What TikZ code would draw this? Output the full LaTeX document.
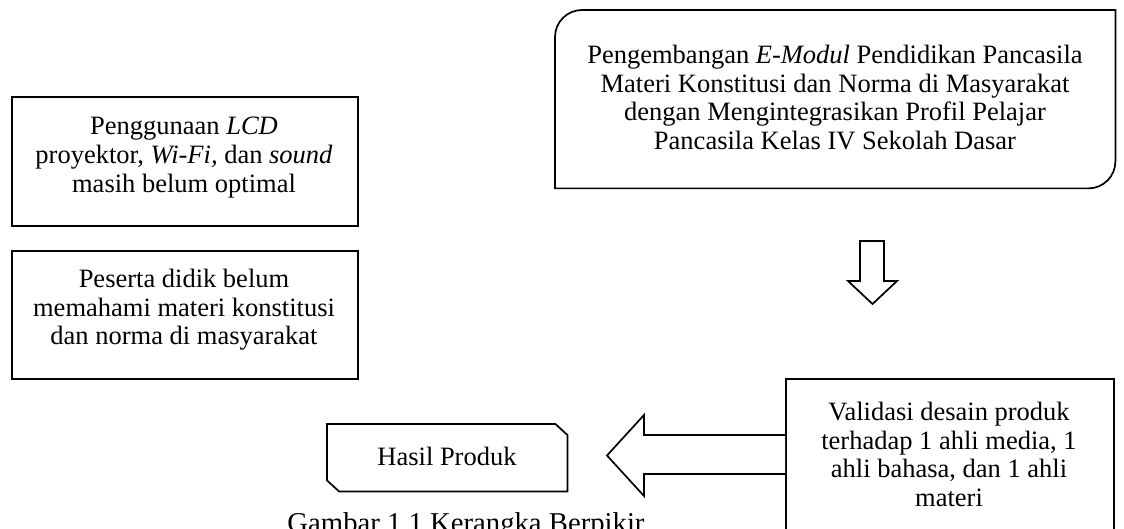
\documentclass[tikz,border=0pt]{standalone}
\usepackage{fontspec}
\setmainfont{Liberation Serif}
\usetikzlibrary{calc}
\begin{document}
\begin{tikzpicture}[x=1pt,y=-1pt,
  frame/.style={draw, line width=1.7pt, inner sep=0pt},
  shapebox/.style={inner sep=0pt},
  outline/.style={draw, line width=1.7pt, line join=miter},
  txt/.style={inner sep=0pt, align=center, font=\fontsize{26.5}{28.7}\selectfont},
  captxt/.style={inner sep=0pt, font=\fontsize{28.7}{32}\selectfont},
  blockarrow/.style={draw, line width=1.7pt, line join=miter, fill=white}]
\useasboundingbox (0,0) rectangle (1124,529);
\clip (0,0) rectangle (1124,529);
\fill[white] (0,0) rectangle (1124,529);

% left boxes
\node[frame, minimum width=346, minimum height=129, anchor=north west] (lcd) at (11,96) {};
\node[txt, anchor=north] (lcdtext) at (184,117) {Penggunaan \textit{LCD}\\proyektor, \textit{Wi-Fi,} dan \textit{sound}\\masih belum optimal};

\node[frame, minimum width=346, minimum height=128, anchor=north west] (didik) at (11,250) {};
\node[txt, anchor=north] (didiktext) at (184,269) {Peserta didik belum\\memahami materi konstitusi\\dan norma di masyarakat};

% top right box (rounded top-left and bottom-right corners)
\node[shapebox, minimum width=560, minimum height=178, anchor=north west] (modul) at (555,10) {};
\draw[outline] (modul.south west) -- ($(modul.north west)+(0,27)$)
  .. controls ($(modul.north west)+(0,12.1)$) and ($(modul.north west)+(12.1,0)$) .. ($(modul.north west)+(27,0)$)
  -- (modul.north east) -- ($(modul.south east)+(0,-27)$)
  .. controls ($(modul.south east)+(0,-12.1)$) and ($(modul.south east)+(-12.1,0)$) .. ($(modul.south east)+(-27,0)$)
  -- cycle;
\node[txt, anchor=north] (modultext) at (835,45) {Pengembangan \textit{E-Modul} Pendidikan Pancasila\\Materi Konstitusi dan Norma di Masyarakat\\dengan Mengintegrasikan Profil Pelajar\\Pancasila Kelas IV Sekolah Dasar};

% down block arrow
\draw[blockarrow] (860,241) -- (884,241) -- (884,281) -- (897,281) -- (872.5,304) -- (848,281) -- (860,281) -- cycle;

% validation box
\node[frame, minimum width=328, minimum height=200, anchor=north west] (val) at (785,378) {};
\node[txt, anchor=north] (valtext) at (949,402) {Validasi desain produk\\terhadap 1 ahli media, 1\\ahli bahasa, dan 1 ahli\\materi};

% left block arrow
\draw[blockarrow] (val.west |- 0,435) -- (644,435) -- (644,415) -- (607,455.5) -- (644,496) -- (644,474) -- (val.west |- 0,474);

% result box (snipped corners)
\node[shapebox, minimum width=240, minimum height=67, anchor=north west] (hasil) at (327,424) {};
\draw[outline] (hasil.north west) -- ($(hasil.north east)+(-12,0)$) -- ($(hasil.north east)+(0,11)$)
  -- (hasil.south east) -- ($(hasil.south west)+(12,0)$) -- ($(hasil.south west)+(0,-11)$) -- cycle;
\node[txt] (hasiltext) at (447,456.5) {Hasil Produk};

% caption
\node[captxt, anchor=base] (caption) at (466,532) {Gambar 1.1 Kerangka Berpikir};
\end{tikzpicture}
\end{document}
